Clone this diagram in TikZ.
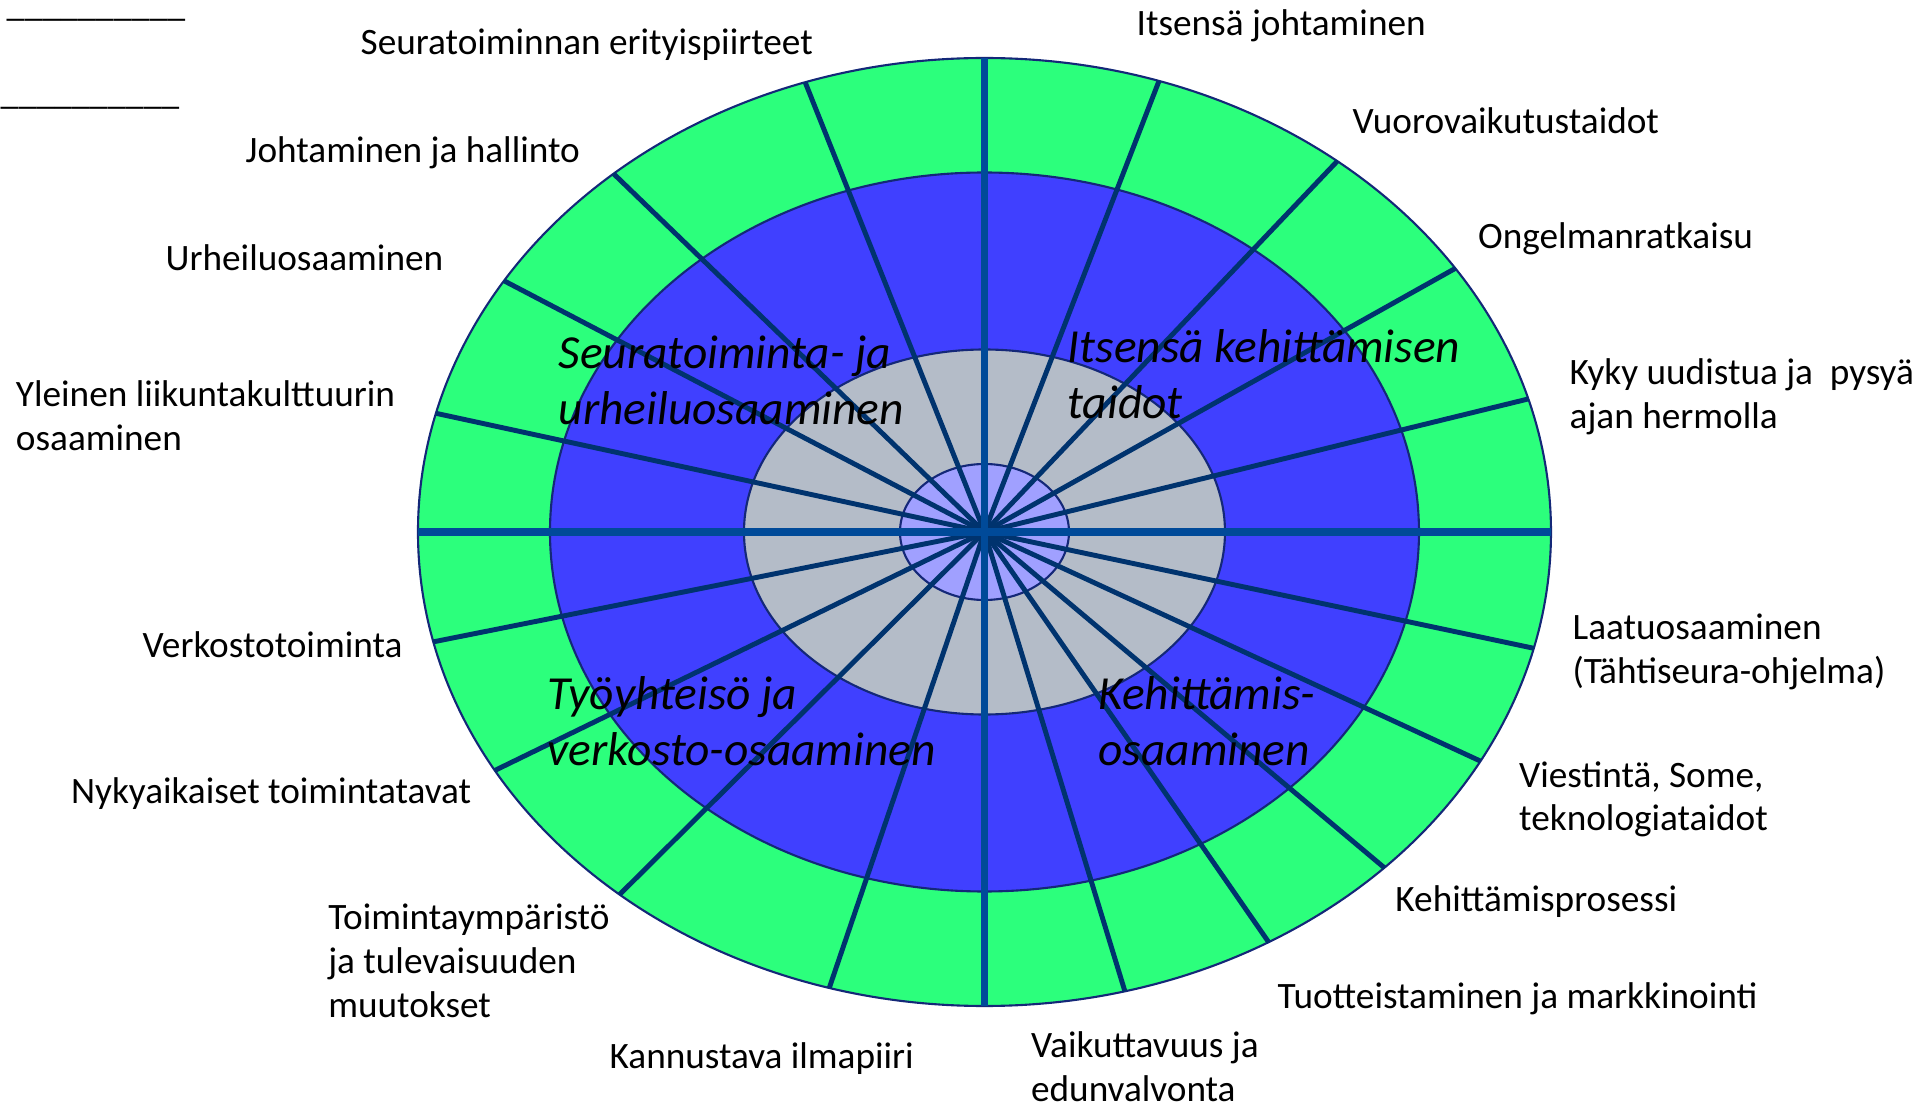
\documentclass[tikz,border=0pt]{standalone}
\usepackage{fontspec}
\setmainfont{Carlito}
\definecolor{ringgreen}{RGB}{44,255,124}
\definecolor{ringblue}{RGB}{64,64,255}
\definecolor{ringgrey}{RGB}{180,188,200}
\definecolor{ringlight}{RGB}{160,160,255}
\definecolor{ringline}{RGB}{20,40,120}
\definecolor{spokeblue}{RGB}{0,51,110}
\definecolor{axisblue}{RGB}{0,74,153}

\begin{document}
\begin{tikzpicture}[
    ring/.style={draw=ringline, line width=0.6pt},
    spoke/.style={draw=spokeblue, line width=1.4pt},
    axis/.style={draw=axisblue, line width=2pt},
    skill/.style={anchor=base west, inner sep=0pt, align=left, font=\fontsize{10.6}{12.5}\selectfont},
    area/.style={anchor=base west, inner sep=0pt, align=left, font=\fontsize{13.5}{16.1}\selectfont\itshape}
]
    \useasboundingbox (-9.845, -5.76) rectangle (9.365, 5.32);
    \coordinate (c) at (0, 0);
    % the four rings, outside in
    \filldraw[ring, fill=ringgreen] (c) ellipse [x radius=5.665, y radius=4.74];
    \filldraw[ring, fill=ringblue] (c) ellipse [x radius=4.345, y radius=3.595];
    \filldraw[ring, fill=ringgrey] (c) ellipse [x radius=2.405, y radius=1.825];
    \filldraw[ring, fill=ringlight] (c) ellipse [x radius=0.845, y radius=0.68];
    % spokes
    \foreach \a in {16.3, 33.79, 51.48, 72.06, 108.45, 130.9, 148, 165.5,
                    193.4, 210.2, 229.9, 254.1, 284.35, 300.1, 314.9, 331.1, 345.8}
        \draw[spoke] (c) -- (\a:5.665 and 4.74);
    \draw[axis] (-5.665, 0) -- (5.665, 0);
    \draw[axis] (0, 4.74) -- (0, -4.74);
    % areas (anchored at the last line)
    \node[area] (seura) at (-4.265, 1.07) {Seuratoiminta- ja\\urheiluosaaminen};
    \node[area] (itse) at (0.825, 1.13) {Itsensä kehittämisen\\taidot};
    \node[area] (tyo) at (-4.375, -2.34) {Työyhteisö ja\\verkosto-osaaminen};
    \node[area] (kehi) at (1.133, -2.34) {Kehittämis-\\osaaminen};
    % skills
    \node[skill, font=\fontsize{10.2}{12.5}\selectfont] (viiva1) at (-9.785, 5.15) {\_\_\_\_\_\_\_\_\_\_};
    \node[skill, font=\fontsize{10.2}{12.5}\selectfont] (viiva2) at (-9.845, 4.27) {\_\_\_\_\_\_\_\_\_\_};
    \node[skill] (erityis) at (-6.245, 4.772) {Seuratoiminnan erityispiirteet};
    \node[skill] (johto) at (-7.395, 3.69) {Johtaminen ja hallinto};
    \node[skill] (urheilu) at (-8.195, 2.61) {Urheiluosaaminen};
    \node[skill] (liikunta) at (-9.692, 0.815) {Yleinen liikuntakulttuurin\\osaaminen};
    \node[skill] (itsejohto) at (1.515, 4.967) {Itsensä johtaminen};
    \node[skill] (vuoro) at (3.675, 3.98) {Vuorovaikutustaidot};
    \node[skill] (ongelma) at (4.93, 2.83) {Ongelmanratkaisu};
    \node[skill] (kyky) at (5.845, 1.04) {Kyky uudistua ja\ \ pysyä\\ajan hermolla};
    \node[skill] (verkosto) at (-8.425, -1.26) {Verkostotoiminta};
    \node[skill] (nyky) at (-9.141, -2.71) {Nykyaikaiset toimintatavat};
    \node[skill] (ymparisto) at (-6.569, -4.85) {Toimintaympäristö\\ja tulevaisuuden\\muutokset};
    \node[skill] (ilmapiiri) at (-3.755, -5.36) {Kannustava ilmapiiri};
    \node[skill] (laatu) at (5.875, -1.51) {Laatuosaaminen\\(Tähtiseura-ohjelma)};
    \node[skill] (viestinta) at (5.34, -2.99) {Viestintä, Some,\\teknologiataidot};
    \node[skill] (prosessi) at (4.103, -3.796) {Kehittämisprosessi};
    \node[skill] (tuote) at (2.925, -4.76) {Tuotteistaminen ja markkinointi};
    \node[skill] (vaikutus) at (0.459, -5.697) {Vaikuttavuus ja\\edunvalvonta};
\end{tikzpicture}
\end{document}
